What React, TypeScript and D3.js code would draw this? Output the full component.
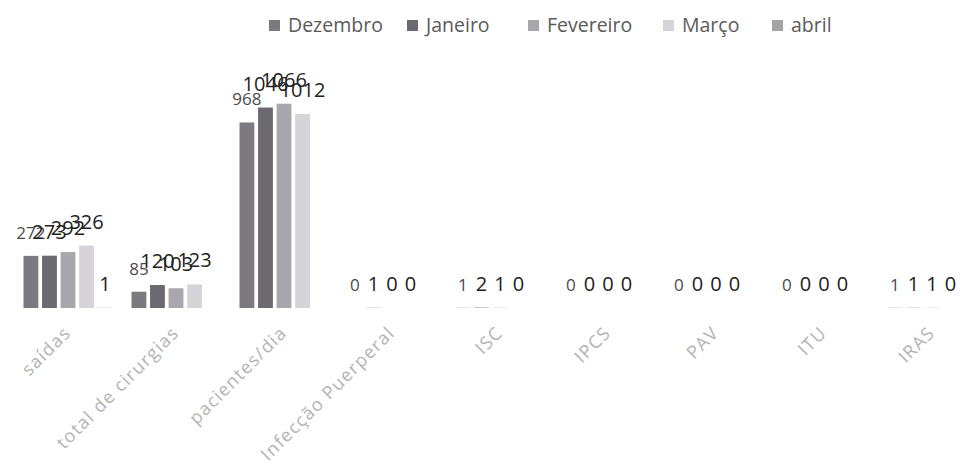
import { scaleBand, scaleLinear } from "d3";

const categories = [
  "saídas",
  "total de cirurgias",
  "pacientes/dia",
  "Infecção Puerperal",
  "ISC",
  "IPCS",
  "PAV",
  "ITU",
  "IRAS"
];

const seriesNames = ["Dezembro", "Janeiro", "Fevereiro", "Março", "abril"];

const dezembro = [272, 85, 968, 0, 1, 0, 0, 0, 1];
const janeiro = [273, 120, 1046, 1, 2, 0, 0, 0, 1];
const fevereiro = [292, 103, 1066, 0, 1, 0, 0, 0, 1];
const marco = [326, 123, 1012, 0, 0, 0, 0, 0, 0];
const abril = [1, null, null, null, null, null, null, null, null];

const seriesValues = [dezembro, janeiro, fevereiro, marco, abril];
const seriesColors = ["#7c7a80", "#6c6970", "#aaa6ae", "#d6d4d9", "#a3a2a6"];

const legendTextX = [288, 426, 547, 682, 791];

const width = 962;
const height = 469;

export default function App() {
  const x0 = scaleBand<string>()
    .domain(categories)
    .range([14, 986])
    .paddingInner(0.176)
    .paddingOuter(0.088);
  const x1 = scaleBand<string>()
    .domain(seriesNames)
    .range([0, x0.bandwidth()])
    .paddingInner(0.2);
  const y = scaleLinear().domain([0, 1200]).range([308, 78]);

  return (
    <svg
      width={width}
      height={height}
      style={{ position: "absolute", left: 0, top: 0, background: "#fff" }}
      fontFamily="'Open Sans', sans-serif"
    >
      <g>
        {seriesNames.map((name, i) => (
          <g key={name} transform={`translate(${legendTextX[i]},0)`}>
            <rect x={-19} y={20} width={11} height={11} fill={seriesColors[i]} />
            <text x={0} y={32} fontSize={19.5} fill="#5a5a5a">
              {name}
            </text>
          </g>
        ))}
      </g>
      {categories.map((cat, ci) => (
        <g key={cat} transform={`translate(${x0(cat)},0)`}>
          {seriesNames.map((name, si) => {
            const v = seriesValues[si][ci];
            if (v === null) return null;
            const bx = x1(name) ?? 0;
            return (
              <g key={name}>
                <rect
                  x={bx}
                  y={y(v)}
                  width={x1.bandwidth()}
                  height={y(0) - y(v)}
                  fill={seriesColors[si]}
                />
                <text
                  x={bx + x1.bandwidth() / 2}
                  y={y(v) - 17}
                  textAnchor="middle"
                  fontSize={si === 0 ? 17 : 20}
                  fill={si === 0 ? "#4a4a4a" : "#222"}
                >
                  {v}
                </text>
              </g>
            );
          })}
        </g>
      ))}
      {categories.map((cat) => {
        const cx = (x0(cat) ?? 0) + x0.bandwidth() / 2 + 4;
        return (
          <text
            key={cat}
            transform={`translate(${cx},334) rotate(-45)`}
            textAnchor="end"
            fontSize={18}
            letterSpacing={1.3}
            fill="#b3b3b3"
          >
            {cat}
          </text>
        );
      })}
    </svg>
  );
}
